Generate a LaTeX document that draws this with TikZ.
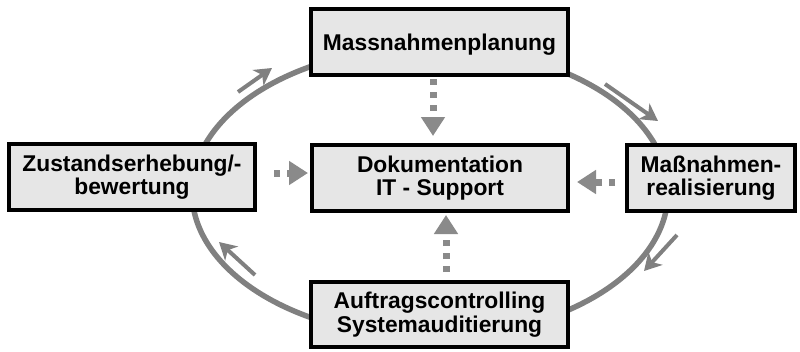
\documentclass[tikz,border=0pt]{standalone}
\usepackage{fontspec}
\setmainfont{Liberation Sans}
\usetikzlibrary{arrows.meta}
\definecolor{arcgray}{HTML}{808080}
\definecolor{dotgray}{HTML}{8A8A8A}
\definecolor{boxfill}{HTML}{E6E6E6}
\begin{document}
\begin{tikzpicture}[x=1pt,y=-1pt,
  box/.style={draw=black, line width=4pt, fill=boxfill, inner sep=0pt, align=center,
    font=\fontsize{22.8pt}{23.5pt}\selectfont\bfseries, minimum height=66pt},
  cyclepath/.style={draw=arcgray, line width=5.5pt},
  hint/.style={draw=arcgray, line width=4pt, -{Stealth[length=17pt,width=19pt,inset=5pt]}},
  dotarrow/.style={draw=dotgray, line width=7pt, dash pattern=on 6pt off 7pt,
    -{Triangle[length=19pt,width=23pt]}}]
\useasboundingbox (0,0) rectangle (800,351);
% cycle ellipse
\draw[cyclepath] (430,192) ellipse [x radius=238pt, y radius=145pt];
% boxes
\node[box, minimum width=257pt, text depth=0pt] (plan) at (439.5,42) {Massnahmenplanung};
\node[box, minimum width=246pt] (zust) at (132,177) {Zustandserhebung/-\\bewertung};
\node[box, minimum width=256pt] (doku) at (440,178) {Dokumentation\\IT - Support};
\node[box, minimum width=168pt] (real) at (711,178) {Maßnahmen-\\realisierung};
\node[box, minimum width=257pt, minimum height=65pt] (audit) at (439.5,314.5) {Auftragscontrolling\\Systemauditierung};
% direction hints along the cycle
\coordinate (h1s) at (238,92);  \coordinate (h1e) at (272,68);
\coordinate (h2s) at (605,84);  \coordinate (h2e) at (658,121);
\coordinate (h3s) at (677,235); \coordinate (h3e) at (644,271);
\coordinate (h4s) at (255,275); \coordinate (h4e) at (219,242);
\draw[hint] (h1s) -- (h1e);
\draw[hint] (h2s) -- (h2e);
\draw[hint] (h3s) -- (h3e);
\draw[hint] (h4s) -- (h4e);
% dotted arrows to the centre
\draw[dotarrow, shorten <=2pt, shorten >=7pt] ([xshift=-6.5pt]plan.south) -- ([xshift=-7pt]doku.north);
\draw[dotarrow, shorten <=8pt, shorten >=2pt] ([xshift=6.5pt]audit.north) -- ([xshift=6pt]doku.south);
\draw[dotarrow, shorten <=17pt, shorten >=2pt] ([yshift=4pt]zust.east) -- ([yshift=5pt]doku.west);
\draw[dotarrow, shorten <=10pt, shorten >=7pt] ([yshift=-4pt]real.west) -- ([yshift=-4pt]doku.east);
\end{tikzpicture}
\end{document}
